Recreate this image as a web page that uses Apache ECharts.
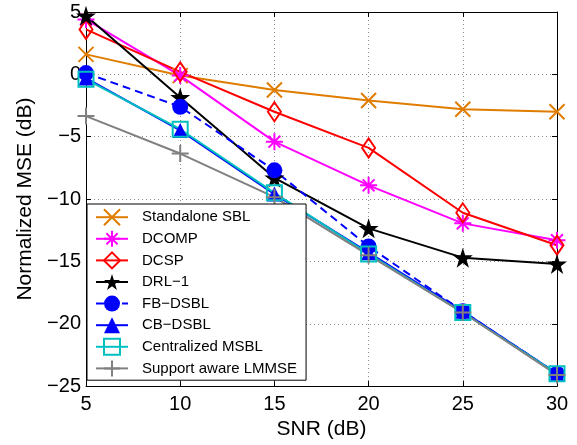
<!DOCTYPE html>
<html>
<head>
<meta charset="utf-8">
<script src="https://cdn.jsdelivr.net/npm/echarts@6/dist/echarts.min.js"></script>
<style>
  html, body { margin: 0; padding: 0; background: #fff; }
  #chart { width: 577px; height: 445px; }
</style>
</head>
<body>
<div id="chart"></div>
<script type="text/javascript">
  // SNR (dB) on the x axis
  var snr = [5, 10, 15, 20, 25, 30];
  // Normalized MSE (dB), one array per method
  var standaloneSbl = [1.6, -0.1, -1.25, -2.1, -2.8, -3.0];
  var dcomp = [4.4, -0.1, -5.4, -8.9, -11.95, -13.3];
  var dcsp = [3.6, 0.2, -3.0, -5.9, -11.1, -13.7];
  var drl1 = [4.7, -1.85, -8.3, -12.35, -14.7, -15.2];
  var fbDsbl = [0.1, -2.6, -7.7, -13.8, -19.0, -24.0];
  var cbDsbl = [-0.3, -4.5, -9.6, -14.3, -19.0, -24.0];
  var centralMsbl = [-0.4, -4.4, -9.5, -14.4, -19.1, -24.0];
  var lmmse = [-3.35, -6.35, -9.85, -14.5, -19.1, -24.1];

  var FONT = 'Liberation Sans';
  var SYM_X = 'path://M0,0L10,10M0,10L10,0';
  var SYM_AST = 'path://M5,0L5,10M0,5L10,5M1.5,1.5L8.5,8.5M1.5,8.5L8.5,1.5';
  var SYM_PLUS = 'path://M5,0L5,10M0,5L10,5';
  var SYM_STAR = 'path://M50,0L61.23,34.55L97.55,34.55L68.17,55.9L79.39,90.45L50,69.1L20.61,90.45L31.83,55.9L2.45,34.55L38.77,34.55Z';

  function pairs(ys) {
    return snr.map(function (x, i) { return [x, ys[i]]; });
  }

  // hollow / stroke-only marker
  function strokeSeries(name, ys, color, symbol, size) {
    return {
      name: name, type: 'line', data: pairs(ys),
      symbol: symbol, symbolSize: size,
      lineStyle: {color: color, width: 2},
      itemStyle: {color: 'none', borderColor: color, borderWidth: 2}
    };
  }
  // filled marker
  function fillSeries(name, ys, color, symbol, size, dashed) {
    return {
      name: name, type: 'line', data: pairs(ys),
      symbol: symbol, symbolSize: size,
      lineStyle: {color: color, width: 2, type: dashed ? [8, 5] : 'solid'},
      itemStyle: {color: color, borderWidth: 0}
    };
  }

  var series = [
    strokeSeries('Standalone SBL', standaloneSbl, '#E07C00', SYM_X, 15),
    strokeSeries('DCOMP', dcomp, '#FF00FF', SYM_AST, 17),
    strokeSeries('DCSP', dcsp, '#FF0000', 'diamond', [13, 19]),
    fillSeries('DRL\u22121', drl1, '#000000', SYM_STAR, 20, false),
    fillSeries('FB\u2212DSBL', fbDsbl, '#0000FF', 'circle', 16, true),
    fillSeries('CB\u2212DSBL', cbDsbl, '#0000FF', 'triangle', 15, false),
    strokeSeries('Centralized MSBL', centralMsbl, '#00BFBF', 'rect', 15),
    strokeSeries('Support aware LMMSE', lmmse, '#808080', SYM_PLUS, 17)
  ];

  var axisCommon = {
    axisLine: {onZero: false, lineStyle: {color: '#000', width: 1}},
    axisTick: {inside: true, length: 5, lineStyle: {color: '#000'}},
    splitLine: {show: false}
  };
  var gridLine = {show: true, lineStyle: {color: '#8a8a8a', type: [1, 3], width: 1}};

  var myChart = echarts.init(document.getElementById('chart'));
  var option = {
    animation: false,
    backgroundColor: '#fff',
    textStyle: {fontFamily: FONT},
    grid: {left: 86, right: 20, top: 12, bottom: 56},
    legend: {
      orient: 'vertical',
      left: 87, top: 204,
      itemWidth: 32, itemHeight: 20, itemGap: 0,
      padding: [2.4, 9, 1, 8],
      borderColor: '#000', borderWidth: 1,
      backgroundColor: '#fff',
      textStyle: {fontFamily: FONT, fontSize: 15, lineHeight: 21.6, color: '#000', padding: [0, 0, 0, 9]},
      data: series.map(function (s) { return s.name; })
    },
    xAxis: [
      Object.assign({}, axisCommon, {
        type: 'value', min: 5, max: 30, interval: 5, position: 'bottom',
        name: 'SNR (dB)', nameLocation: 'middle', nameGap: 27,
        nameTextStyle: {fontFamily: FONT, fontSize: 21, color: '#000'},
        axisLabel: {fontFamily: FONT, fontSize: 20, color: '#000', margin: 8},
        splitLine: gridLine
      }),
      Object.assign({}, axisCommon, {
        type: 'value', min: 5, max: 30, interval: 5, position: 'top',
        axisLabel: {show: false}
      })
    ],
    yAxis: [
      Object.assign({}, axisCommon, {
        type: 'value', min: -25, max: 5, interval: 5, position: 'left',
        name: 'Normalized MSE (dB)', nameLocation: 'middle', nameGap: 46,
        nameTextStyle: {fontFamily: FONT, fontSize: 21, color: '#000'},
        axisLabel: {
          fontFamily: FONT, fontSize: 20, color: '#000', margin: 5,
          formatter: function (v) { return String(v).replace('-', '\u2212'); }
        },
        splitLine: gridLine
      }),
      Object.assign({}, axisCommon, {
        type: 'value', min: -25, max: 5, interval: 5, position: 'right',
        axisLabel: {show: false}
      })
    ],
    series: series
  };
  myChart.setOption(option);
</script>
</body>
</html>
